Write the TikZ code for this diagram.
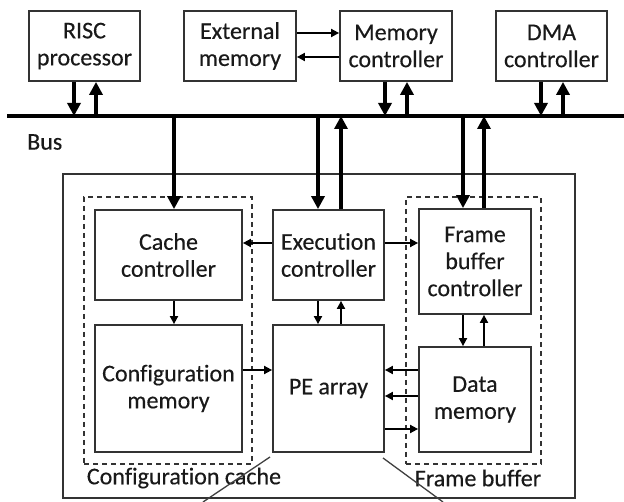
\documentclass[tikz,border=0pt]{standalone}
\usepackage{fontspec}
\setmainfont{Carlito}[FakeBold=0.35, Ligatures=NoCommon]
\usetikzlibrary{arrows.meta}
\begin{document}
\begin{tikzpicture}[x=1pt,y=-1pt,
  txt/.style={text=black!90, font=\fontsize{24}{27}\selectfont},
  box/.style={draw=black!80, line width=1.8pt, inner sep=0pt, align=center, txt},
  group/.style={draw=black!80, line width=1.5pt, dash pattern=on 5pt off 4pt, inner sep=0pt},
  busline/.style={line width=3.2pt, draw=black},
  busarrow/.style={line width=3.6pt, draw=black, -{Triangle[length=13pt,width=13pt]}},
  link/.style={line width=1.8pt, draw=black, -{Triangle[length=8pt,width=8pt]}},
  leader/.style={line width=1.3pt, draw=black!75},
  lbl/.style={txt, inner sep=0pt}
]
\useasboundingbox (0,0) rectangle (624,502);

% system bus
\coordinate (busL) at (7,116);
\coordinate (busR) at (624,116);
\draw[busline] (busL) -- (busR);
\node[lbl, anchor=west] (buslbl) at (27,142) {Bus};

% devices on the bus
\node[box, minimum width=111pt, minimum height=70pt] (risc) at (84.5,46) {RISC\\processor};
\node[box, minimum width=112pt, minimum height=70pt] (ext)  at (240,46)  {External\\memory};
\node[box, minimum width=112pt, minimum height=70pt] (memc) at (396,46)  {Memory\\controller};
\node[box, minimum width=111pt, minimum height=70pt] (dma)  at (551.5,46) {DMA\\controller};

% reconfigurable core
\node[draw=black!80, line width=1.8pt, inner sep=0pt, minimum width=512pt, minimum height=324pt] (core) at (319,336) {};
\node[group, minimum width=168pt, minimum height=267pt] (ccache) at (168,330.5) {};
\node[group, minimum width=135pt, minimum height=267pt] (fbuf) at (473.5,330.5) {};

\node[box, minimum width=147pt, minimum height=90pt]  (cachec) at (168.5,255)   {Cache\\controller};
\node[box, minimum width=111pt, minimum height=90pt]  (exec)   at (328.5,255)   {Execution\\controller};
\node[box, minimum width=112pt, minimum height=105pt] (fbc)    at (475,261.5)   {Frame\\buffer\\controller};
\node[box, minimum width=147pt, minimum height=127pt] (cfgm)   at (168.5,388.5) {Configuration\\memory};
\node[box, minimum width=111pt, minimum height=127pt] (pe)     at (328.5,388.5) {PE array};
\node[box, minimum width=112pt, minimum height=105pt] (dm)     at (475,399.5)   {Data\\memory};

\node[lbl] (cclbl) at (184,478) {Configuration cache};
\node[lbl] (fblbl) at (478,478) {Frame buffer};

% bus connections
\draw[busarrow] (risc.south -| 74,0) -- (74,0 |- busL);
\draw[busarrow] (96,0 |- busL) -- (risc.south -| 96,0);
\draw[busarrow] (memc.south -| 385,0) -- (385,0 |- busL);
\draw[busarrow] (407,0 |- busL) -- (memc.south -| 407,0);
\draw[busarrow] (dma.south -| 541,0) -- (541,0 |- busL);
\draw[busarrow] (563,0 |- busL) -- (dma.south -| 563,0);
\draw[busarrow] (174,0 |- busL) -- (cachec.north -| 174,0);
\draw[busarrow] (318,0 |- busL) -- (exec.north -| 318,0);
\draw[busarrow] (exec.north -| 341,0) -- (341,0 |- busL);
\draw[busarrow] (463,0 |- busL) -- (fbc.north -| 463,0);
\draw[busarrow] (fbc.north -| 484,0) -- (484,0 |- busL);

% external memory interface
\draw[link] (ext.east |- 0,33) -- (memc.west |- 0,33);
\draw[link] (memc.west |- 0,57) -- (ext.east |- 0,57);

% internal connections
\draw[link] (exec.west |- 0,243) -- (cachec.east |- 0,243);
\draw[link] (exec.east |- 0,243) -- (fbc.west |- 0,243);
\draw[link] (cachec.south -| 174,0) -- (cfgm.north -| 174,0);
\draw[link] (exec.south -| 318,0) -- (pe.north -| 318,0);
\draw[link] (pe.north -| 341,0) -- (exec.south -| 341,0);
\draw[link] (fbc.south -| 463,0) -- (dm.north -| 463,0);
\draw[link] (dm.north -| 484,0) -- (fbc.south -| 484,0);
\draw[link] (cfgm.east |- 0,370) -- (pe.west |- 0,370);
\draw[link] (dm.west |- 0,370) -- (pe.east |- 0,370);
\draw[link] (dm.west |- 0,396) -- (pe.east |- 0,396);
\draw[link] (pe.east |- 0,429) -- (dm.west |- 0,429);

% leader lines below the PE array
\coordinate (ldA1) at (270,457);
\coordinate (ldA2) at (203,502);
\coordinate (ldB1) at (383,458);
\coordinate (ldB2) at (443,502);
\draw[leader] (ldA1) -- (ldA2);
\draw[leader] (ldB1) -- (ldB2);
\end{tikzpicture}
\end{document}
